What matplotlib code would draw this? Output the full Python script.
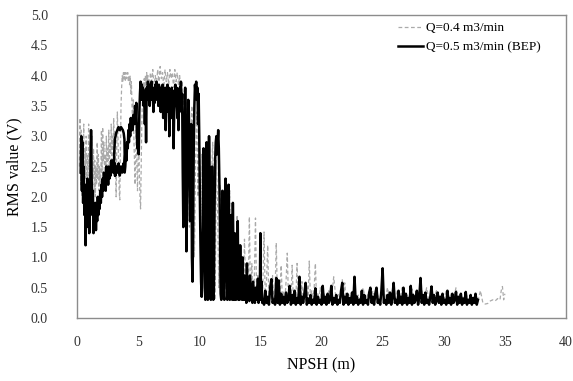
import matplotlib
matplotlib.use("Agg")
import matplotlib.pyplot as plt
import numpy as np

plt.rcParams['font.family'] = ['Liberation Serif', 'DejaVu Serif']

# ---------------- Q = 0.5 m3/min (BEP), black solid ----------------
bep_x_a = [0.30,0.35,0.40,0.45,0.50,0.55,0.60,0.65,0.70,0.75,0.80,0.85,0.90,0.95,1.00,1.05,1.10,1.15,
           1.20,1.25,1.30,1.35,1.40,1.45,1.50,1.55,1.60,1.65,1.70,1.75,1.80,1.85,1.90,1.95,2.00]
bep_y_a = [2.4,3.0,2.1,2.9,1.9,2.5,1.7,2.2,1.2,1.9,1.5,2.3,1.6,2.0,1.4,1.8,2.5,3.1,
           2.3,1.7,2.1,1.4,1.8,1.5,1.9,1.45,1.8,1.6,2.0,1.7,1.9,1.8,2.1,1.9,2.2]

bep_x_b = [2.05,2.10,2.15,2.20,2.25,2.30,2.35,2.40,2.45,2.50,2.55,2.60,2.65,2.70,2.75,2.80,2.85,2.90,2.95,3.00,
           3.05,3.10,3.15,3.20,3.30,3.40,3.50,3.60,3.70,3.80,3.85,3.90,3.88,3.82,3.75,3.60,3.50,3.40,3.30,3.20,
           3.10,3.05,3.02,3.10,3.30,3.50,3.70,3.90]
bep_y_b = [2.0,2.3,2.1,2.4,2.2,2.3,2.1,2.5,2.3,2.4,2.2,2.5,2.3,2.45,2.35,2.6,2.4,2.5,2.6,2.5,
           2.4,2.55,2.35,2.5,2.4,2.55,2.35,2.5,2.4,2.55,2.5,2.7,2.95,3.05,3.1,3.15,3.1,3.15,3.1,3.05,
           2.95,2.75,2.5,2.35,2.45,2.4,2.45,2.4]

bep_x_c = [3.95,4.00,4.05,4.10,4.15,4.20,4.25,4.30,4.35,4.40,4.45,4.50,4.55,4.60,4.70,4.75,4.80,4.85,
           4.90,4.95,5.00,5.05,5.10,5.15,5.20,5.25]
bep_y_c = [2.5,2.7,2.6,2.9,2.8,3.1,2.9,3.2,3.0,3.3,3.1,3.25,3.1,3.35,3.2,3.5,3.3,3.55,
           3.0,2.8,3.2,2.7,3.4,3.7,3.9,3.6]

bep_x_d = [5.30,5.35,5.40,5.45,5.50,5.55,5.60,5.65,5.70,5.75,5.80,5.85,5.90,5.95,6.00,6.05,6.10,6.15,
           6.20,6.25,6.30,6.35,6.40,6.45,6.50,6.55,6.60,6.65,6.70,6.75,6.80,6.85,6.90,6.95,7.00,7.05,
           7.10,7.15,7.20,7.25,7.30,7.35,7.40,7.45,7.50,7.55,7.60,7.65,7.70,7.75,7.80,7.85,7.90,7.95,
           8.00,8.05,8.10,8.15,8.20,8.25,8.30,8.35,8.40,8.45,8.50,8.55,8.60]
bep_y_d = [3.85,3.6,3.8,3.5,3.75,3.2,3.7,2.9,3.8,3.6,3.9,3.7,3.85,3.5,3.8,3.65,3.9,3.6,
           3.8,3.4,3.75,3.55,3.85,3.6,3.9,3.7,3.8,3.5,3.85,3.65,3.8,3.4,3.7,3.5,3.85,3.3,
           3.7,3.5,3.8,3.1,3.6,3.4,3.85,3.6,3.8,3.0,3.5,3.7,3.3,3.8,3.45,3.75,2.8,3.4,
           3.6,3.85,3.5,3.8,3.3,3.7,3.1,3.6,3.8,3.55,3.9,3.4,3.7]

bep_x_e = [8.65,8.70,8.75,8.80,8.85,8.90,8.95,9.00,9.05,9.10,9.15,9.20,9.25,9.30,9.35,9.40,9.45,9.50,
           9.55,9.60,9.65,9.70,9.75,9.80,9.85,9.90,9.95,10.00,10.05,10.10,10.15,10.20,10.25,10.30,10.35,
           10.40,10.45,10.50,10.55,10.60,10.65,10.70,10.75,10.80,10.85,10.90,10.95,11.00,11.05,11.10,
           11.15,11.20,11.25,11.30,11.35,11.40,11.45,11.50,11.55,11.60,11.65,11.70,11.75,11.80,11.85,
           11.90,11.95,12.00,12.05,12.10,12.15,12.20,12.25,12.30,12.35,12.40,12.45,12.50,12.55,12.60,
           12.65,12.70,12.75,12.80,12.85,12.90,12.95,13.00,13.05,13.10,13.15,13.20,13.25,13.30,13.35,
           13.40,13.45,13.50,13.55,13.60,13.65,13.70,13.75,13.80,13.85,13.90,13.95,14.00,14.05,14.10,
           14.15,14.20,14.25,14.30,14.35,14.40,14.45,14.50,14.55,14.60,14.65,14.70,14.75,14.80,14.85,
           14.90,14.95,15.00,15.05,15.10,15.15]
bep_y_e = [2.4,1.5,2.2,3.2,3.8,3.0,1.1,1.8,2.9,3.6,3.4,2.6,1.6,2.4,3.2,1.0,0.6,1.5,
           2.8,3.5,3.85,3.7,3.9,3.6,3.8,3.2,3.7,3.0,2.0,1.2,0.6,0.35,0.9,1.5,2.8,
           2.0,0.5,0.3,1.8,2.9,1.0,0.3,2.0,3.0,2.4,0.4,0.3,1.2,2.5,1.4,
           0.3,0.5,1.8,2.6,2.9,3.0,2.7,2.9,3.1,2.8,2.2,1.4,0.4,0.3,1.2,
           2.1,1.5,0.4,0.3,1.3,2.3,2.0,0.8,0.3,1.6,2.2,1.2,0.3,0.9,1.7,
           0.6,0.3,1.9,1.0,0.3,1.4,0.5,0.3,1.1,0.4,1.6,0.3,0.9,0.3,1.2,
           0.35,0.8,0.3,1.0,0.3,0.5,0.7,0.3,0.6,0.25,0.9,0.3,0.5,0.35,0.28,
           0.7,0.3,0.45,0.55,0.25,0.6,0.3,0.45,0.25,0.5,0.35,0.3,0.45,0.65,0.25,
           0.4,0.3,1.4,0.3,0.6,0.25]

bep_y_f = [0.3,0.22,0.45,0.25,0.35,0.22,0.5,0.64,0.25,0.3,
           0.22,0.66,0.25,0.62,0.22,0.4,0.25,0.35,0.22,0.42,
           0.25,0.3,0.53,0.22,0.38,0.25,0.45,0.22,0.33,0.25,
           0.68,0.22,0.35,0.25,0.4,0.58,0.22,0.32,0.25,0.38,
           0.22,0.3,0.25,0.49,0.22,0.35,0.25,0.3,0.22,0.53,
           0.25,0.35,0.22,0.4,0.25,0.3,0.53,0.22,0.33,0.25,
           0.38,0.22,0.3,0.25,0.45,0.58,0.22,0.35,0.25,0.4,
           0.22,0.33,0.25,0.42,0.22,0.68,0.25,0.35,0.22,0.3,
           0.25,0.45,0.22,0.38,0.25,0.3,0.22,0.42,0.5,0.25,
           0.35,0.22,0.4,0.5,0.25,0.3,0.22,0.45,0.82,0.25,
           0.3,0.22,0.38,0.25,0.42,0.22,0.35,0.58,0.25,0.3,
           0.22,0.45,0.25,0.35,0.22,0.5,0.25,0.4,0.22,0.33,
           0.25,0.53,0.22,0.38,0.25,0.3,0.45,0.22,0.35,0.66,
           0.25,0.38,0.22,0.42,0.25,0.3,0.22,0.35,0.52,0.25,
           0.38,0.22,0.3,0.42,0.25,0.35,0.22,0.4,0.25,0.3,
           0.22,0.45,0.25,0.33,0.22,0.4,0.25,0.3,0.43,0.22,
           0.35,0.25,0.4,0.22,0.32,0.25,0.43,0.22,0.3,0.25,
           0.38,0.22,0.33,0.25,0.4,0.22,0.3]
bep_x_f = [round(15.2 + 0.1 * i, 2) for i in range(len(bep_y_f))]

# ---------------- Q = 0.4 m3/min, gray dashed ----------------
q04_y_a = [2.5,3.3,2.2,3.1,2.0,2.9,2.4,3.2,2.1,2.8,2.3,3.0,2.0,2.7,2.2,3.2,2.5,2.9,2.1,2.6,
           2.0,3.0,2.3,2.8,2.1,2.6,2.0,2.5,2.2,2.9,2.3,2.7,2.1,2.5,2.2,2.4,3.1,
           2.4,3.15,2.6,2.9,2.3,2.7,2.5,3.0,2.4,2.8,2.6,3.1,2.5,2.9,2.7,3.2,2.6,3.0,2.8,3.3,
           2.9,3.1,2.5,2.0,2.8,3.4,3.0,2.6,2.1,1.95,
           2.8,3.5,3.8,4.0,3.9,4.05,3.95,4.05,3.9,4.05,3.95,4.0,4.05,3.9,4.0,3.85,4.0,3.7,3.9,
           3.5,3.2,3.6,3.0,2.6,2.2,2.7,3.1,2.5,2.1,2.6,3.0,2.4,2.0,1.8,2.5,3.2,3.6,3.9,3.7,3.95,
           3.8,4.0,3.85,4.05,3.9,4.0,3.75,3.95,3.85,4.05]
q04_x_a = [round(0.2 + 0.05 * i, 2) for i in range(len(q04_y_a))]

q04_y_b = [3.9,4.1,3.8,4.0,3.85,4.1,3.9,4.15,3.95,4.05,3.8,4.1,3.9,4.05,3.85,4.1,3.95,4.05,3.8,
           4.1,3.9,4.05,3.85,4.0,3.7,3.9,3.5,3.8,2.5,3.6,3.0,1.5,2.8,3.5,2.2,1.0,2.6,3.4,2.0,3.2,
           1.4,2.7,0.8,2.5,1.9,0.4,2.9,1.6,0.5,2.3,2.9,1.2,0.3,2.6,1.8,0.5,2.2,1.1,0.3,2.0,
           1.0,0.3,1.8,0.6,2.1,0.3,1.5,0.4,1.3,0.3,1.7,0.35,1.2,0.3,1.0,0.3,1.3,0.35,0.8,0.3,
           1.67,0.3,0.9,0.28,0.6,1.65,0.3,0.7,0.28,0.9,0.3,0.5,1.42,0.3,0.6,1.2,0.28,0.5,0.3,0.7,
           0.28,0.4,1.24,0.3,0.55,0.28,0.87,0.3,0.45,0.28,0.6,1.07,0.3,0.5,0.28,0.87,0.3,0.45,0.28,0.9,
           0.3,0.5,0.28,0.6,0.3,0.4,0.28,0.55,0.3,0.94,0.28,0.45,0.3,0.5,0.9,0.28,0.4,0.3,0.5,0.28]
q04_x_b = [round(6.1 + 0.1 * i, 2) for i in range(len(q04_y_b))]

q04_x_c = [20.2,20.4,20.6,20.8,21.0,21.2,21.4,21.6,21.7,21.8,21.9,22.0,22.2,22.4,22.6,22.8,23.0,23.2,
           23.4,23.6,23.8,24.0,24.2,24.4,24.6,24.8,25.0,25.2,25.4,25.6,25.8,26.0,26.2,26.4,26.6,26.8,
           27.0,27.2,27.4,27.6,27.8,28.0,28.2,28.4,28.6,28.8,29.0,29.2,29.4,29.6,29.8,30.0,30.2,30.4,
           30.6,30.8,31.0,31.2,31.4,31.6,31.8,32.0,32.2,32.4,32.6,32.8,33.0,33.2,33.4,33.6,33.8,34.0,
           34.2,34.4,34.6,34.7,34.8,34.9,35.0]
q04_y_c = [0.4,0.28,0.45,0.3,0.68,0.28,0.4,0.3,0.64,0.28,0.58,0.3,0.4,0.28,0.45,0.3,0.38,0.28,
           0.5,0.3,0.4,0.28,0.45,0.3,0.38,0.28,0.42,0.3,0.5,0.28,0.4,0.3,0.45,0.28,0.5,0.3,
           0.38,0.28,0.48,0.3,0.4,0.28,0.45,0.3,0.5,0.28,0.4,0.3,0.45,0.28,0.38,0.3,0.45,0.28,
           0.4,0.3,0.5,0.28,0.38,0.3,0.42,0.28,0.35,0.3,0.4,0.28,0.45,0.25,0.23,0.24,0.28,0.3,
           0.28,0.32,0.3,0.45,0.52,0.3,0.4]

npsh_04 = q04_x_a + q04_x_b + q04_x_c
rms_04 = q04_y_a + q04_y_b + q04_y_c
npsh_05 = bep_x_a + bep_x_b + bep_x_c + bep_x_d + bep_x_e + bep_x_f
rms_05 = bep_y_a + bep_y_b + bep_y_c + bep_y_d + bep_y_e + bep_y_f

x_ticks = [0, 5, 10, 15, 20, 25, 30, 35, 40]
y_ticks = [0.0, 0.5, 1.0, 1.5, 2.0, 2.5, 3.0, 3.5, 4.0, 4.5, 5.0]

fig = plt.figure(figsize=(5.73, 3.81), dpi=100)
ax = fig.add_axes([77/573, 1 - 318/381, (566 - 77)/573, (318 - 15)/381])

ax.plot(npsh_04, rms_04, color='#aaaaaa', lw=0.9, linestyle=(0, (3, 2)),
        label='Q=0.4 m3/min', zorder=2)
ax.plot(npsh_05, rms_05, color='black', lw=1.8, label='Q=0.5 m3/min (BEP)', zorder=3)

ax.set_xlim(0, 40)
ax.set_ylim(0, 5)
ax.set_xticks(x_ticks)
ax.set_xticklabels([str(t) for t in x_ticks])
ax.set_yticks(y_ticks)
ax.set_yticklabels([f"{t:.1f}" for t in y_ticks])
ax.tick_params(axis='both', length=0, labelsize=10, colors='#333333')
ax.tick_params(axis='y', pad=21)
ax.tick_params(axis='x', pad=13)
for s in ax.spines.values():
    s.set_color('#8c8c8c')
    s.set_linewidth(1.0)

ax.set_xlabel('NPSH (m)', fontsize=11.5, labelpad=6)
ax.set_ylabel('RMS value (V)', fontsize=11.5, labelpad=6)

leg = ax.legend(loc='upper left', bbox_to_anchor=(398/573, 1 - 22/381),
                bbox_transform=fig.transFigure, frameon=False, fontsize=9.5,
                handlelength=1.9, handletextpad=0.2, labelspacing=0.55,
                borderaxespad=0, borderpad=0)

fig.savefig('out.png', dpi=100)
